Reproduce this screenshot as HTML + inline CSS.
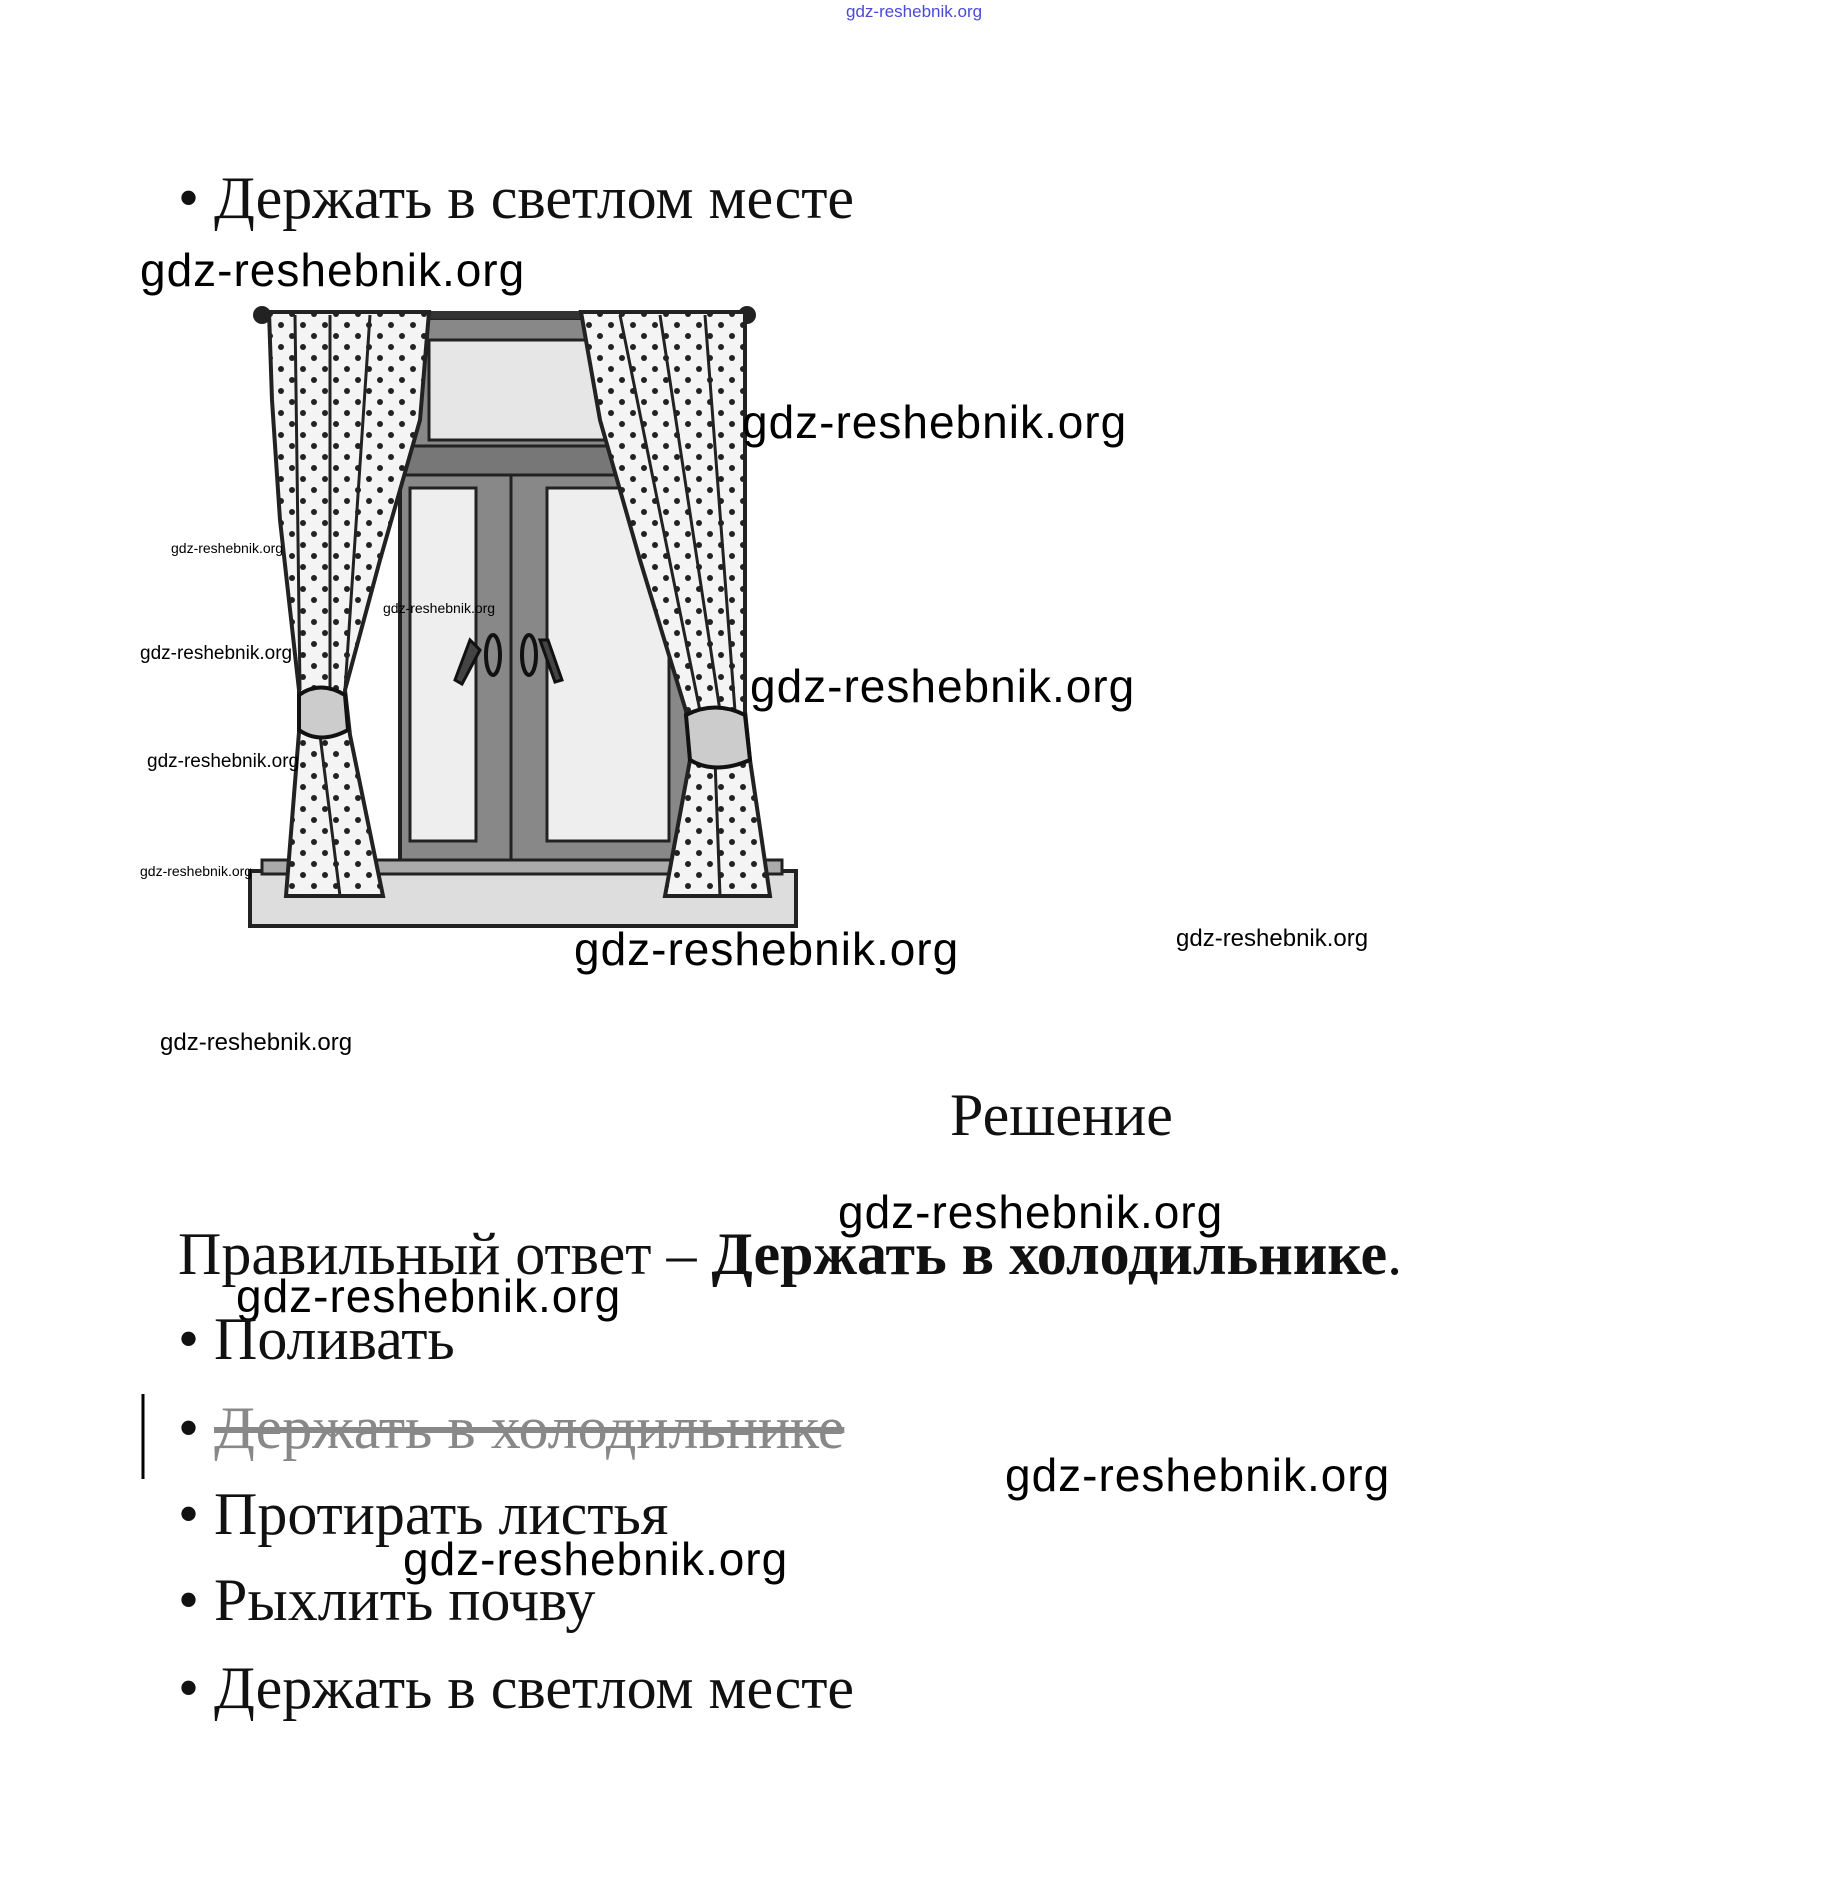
<!DOCTYPE html>
<html><head><meta charset="utf-8"><style>
body{margin:0;width:1842px;height:1894px;background:#fff;position:relative;overflow:hidden}
.t{position:absolute;white-space:nowrap;font-family:"Liberation Serif",serif;font-size:60px;line-height:60px;color:#111}
.w{position:absolute;white-space:nowrap;font-family:"Liberation Sans",sans-serif;color:#000;line-height:1}
.W{font-size:46px;letter-spacing:1px}
</style></head><body>
<svg width="1842" height="1894" style="position:absolute;left:0;top:0">
<defs>
<pattern id="dots" width="22" height="22" patternUnits="userSpaceOnUse"><rect width="22" height="22" fill="#f4f4f4"/><circle cx="6" cy="6" r="3" fill="#222"/><circle cx="17" cy="17" r="3" fill="#222"/></pattern>
</defs>
<rect x="400" y="318" width="340" height="555" fill="#888" stroke="#222" stroke-width="4"/>
<rect x="429" y="340" width="290" height="100" fill="#e6e6e6" stroke="#222" stroke-width="3"/>
<rect x="400" y="446" width="340" height="29" fill="#777" stroke="#222" stroke-width="3"/>
<rect x="410" y="488" width="66" height="353" fill="#eee" stroke="#222" stroke-width="3"/>
<rect x="547" y="488" width="122" height="353" fill="#eee" stroke="#222" stroke-width="3"/>
<line x1="511" y1="475" x2="511" y2="860" stroke="#222" stroke-width="3"/>
<path d="M470 640 L455 680 L462 684 L480 650Z M540 640 L555 682 L562 680 L548 640Z" fill="#444" stroke="#111" stroke-width="3"/>
<ellipse cx="493" cy="655" rx="7" ry="20" fill="none" stroke="#111" stroke-width="4"/>
<ellipse cx="529" cy="655" rx="7" ry="20" fill="none" stroke="#111" stroke-width="4"/>
<rect x="250" y="871" width="546" height="55" fill="#ddd" stroke="#222" stroke-width="4"/>
<rect x="262" y="860" width="520" height="14" fill="#aaa" stroke="#222" stroke-width="3"/>
<rect x="255" y="311" width="498" height="8" fill="#333"/>
<circle cx="262" cy="315" r="9" fill="#222"/><circle cx="747" cy="315" r="9" fill="#222"/>
<path d="M269 312 L429 312 L420 420 L380 560 L345 690 L350 735 L383 896 L286 896 L299 732 L299 690 L280 520 L272 400Z" fill="url(#dots)" stroke="#222" stroke-width="4"/>
<path d="M295 315 L300 690 M330 315 L330 690 M370 315 L345 690 M320 735 L340 896" stroke="#222" stroke-width="3" fill="none"/>
<path d="M581 312 L745 312 L745 500 L745 711 L750 760 L770 896 L665 896 L690 760 L686 711 L640 560 L600 420Z" fill="url(#dots)" stroke="#222" stroke-width="4"/>
<path d="M620 315 L700 711 M660 315 L720 711 M705 315 L735 711 M715 760 L720 896" stroke="#222" stroke-width="3" fill="none"/>
<path d="M299 695 Q320 680 345 695 L348 730 Q320 745 299 730Z" fill="#ccc" stroke="#111" stroke-width="4"/>
<path d="M686 715 Q715 700 745 715 L750 760 Q715 775 690 760Z" fill="#ccc" stroke="#111" stroke-width="4"/>
<line x1="143" y1="1394" x2="143" y2="1479" stroke="#000" stroke-width="3"/>
</svg>

<div class="w" style="left:846px;top:3px;font-size:17px;color:#4a4ad8">gdz-reshebnik.org</div>

<div class="t" style="left:178px;top:168px">• Держать в светлом месте</div>
<div class="w W" style="left:140px;top:247px">gdz-reshebnik.org</div>
<div class="w W" style="left:742px;top:399px">gdz-reshebnik.org</div>
<div class="w" style="left:171px;top:541px;font-size:14px">gdz-reshebnik.org</div>
<div class="w" style="left:383px;top:601px;font-size:14px">gdz-reshebnik.org</div>
<div class="w" style="left:140px;top:644px;font-size:19px">gdz-reshebnik.org</div>
<div class="w W" style="left:750px;top:663px">gdz-reshebnik.org</div>
<div class="w" style="left:147px;top:752px;font-size:19px">gdz-reshebnik.org</div>
<div class="w" style="left:140px;top:864px;font-size:14px">gdz-reshebnik.org</div>
<div class="w W" style="left:574px;top:926px">gdz-reshebnik.org</div>
<div class="w" style="left:1176px;top:927px;font-size:24px">gdz-reshebnik.org</div>
<div class="w" style="left:160px;top:1031px;font-size:24px">gdz-reshebnik.org</div>

<div class="t" style="left:950px;top:1085px">Решение</div>
<div class="w W" style="left:838px;top:1189px">gdz-reshebnik.org</div>
<div class="t" style="left:178px;top:1224px">Правильный ответ – <b>Держать в холодильнике</b>.</div>
<div class="w W" style="left:236px;top:1273px">gdz-reshebnik.org</div>
<div class="t" style="left:178px;top:1309px">• Поливать</div>
<div class="t" style="left:178px;top:1398px;color:#888"><span style="color:#111">•</span> <s>Держать в холодильнике</s></div>
<div class="w W" style="left:1005px;top:1452px">gdz-reshebnik.org</div>
<div class="t" style="left:178px;top:1484px">• Протирать листья</div>
<div class="w W" style="left:403px;top:1536px">gdz-reshebnik.org</div>
<div class="t" style="left:178px;top:1570px">• Рыхлить почву</div>
<div class="t" style="left:178px;top:1658px">• Держать в светлом месте</div>
</body></html>
